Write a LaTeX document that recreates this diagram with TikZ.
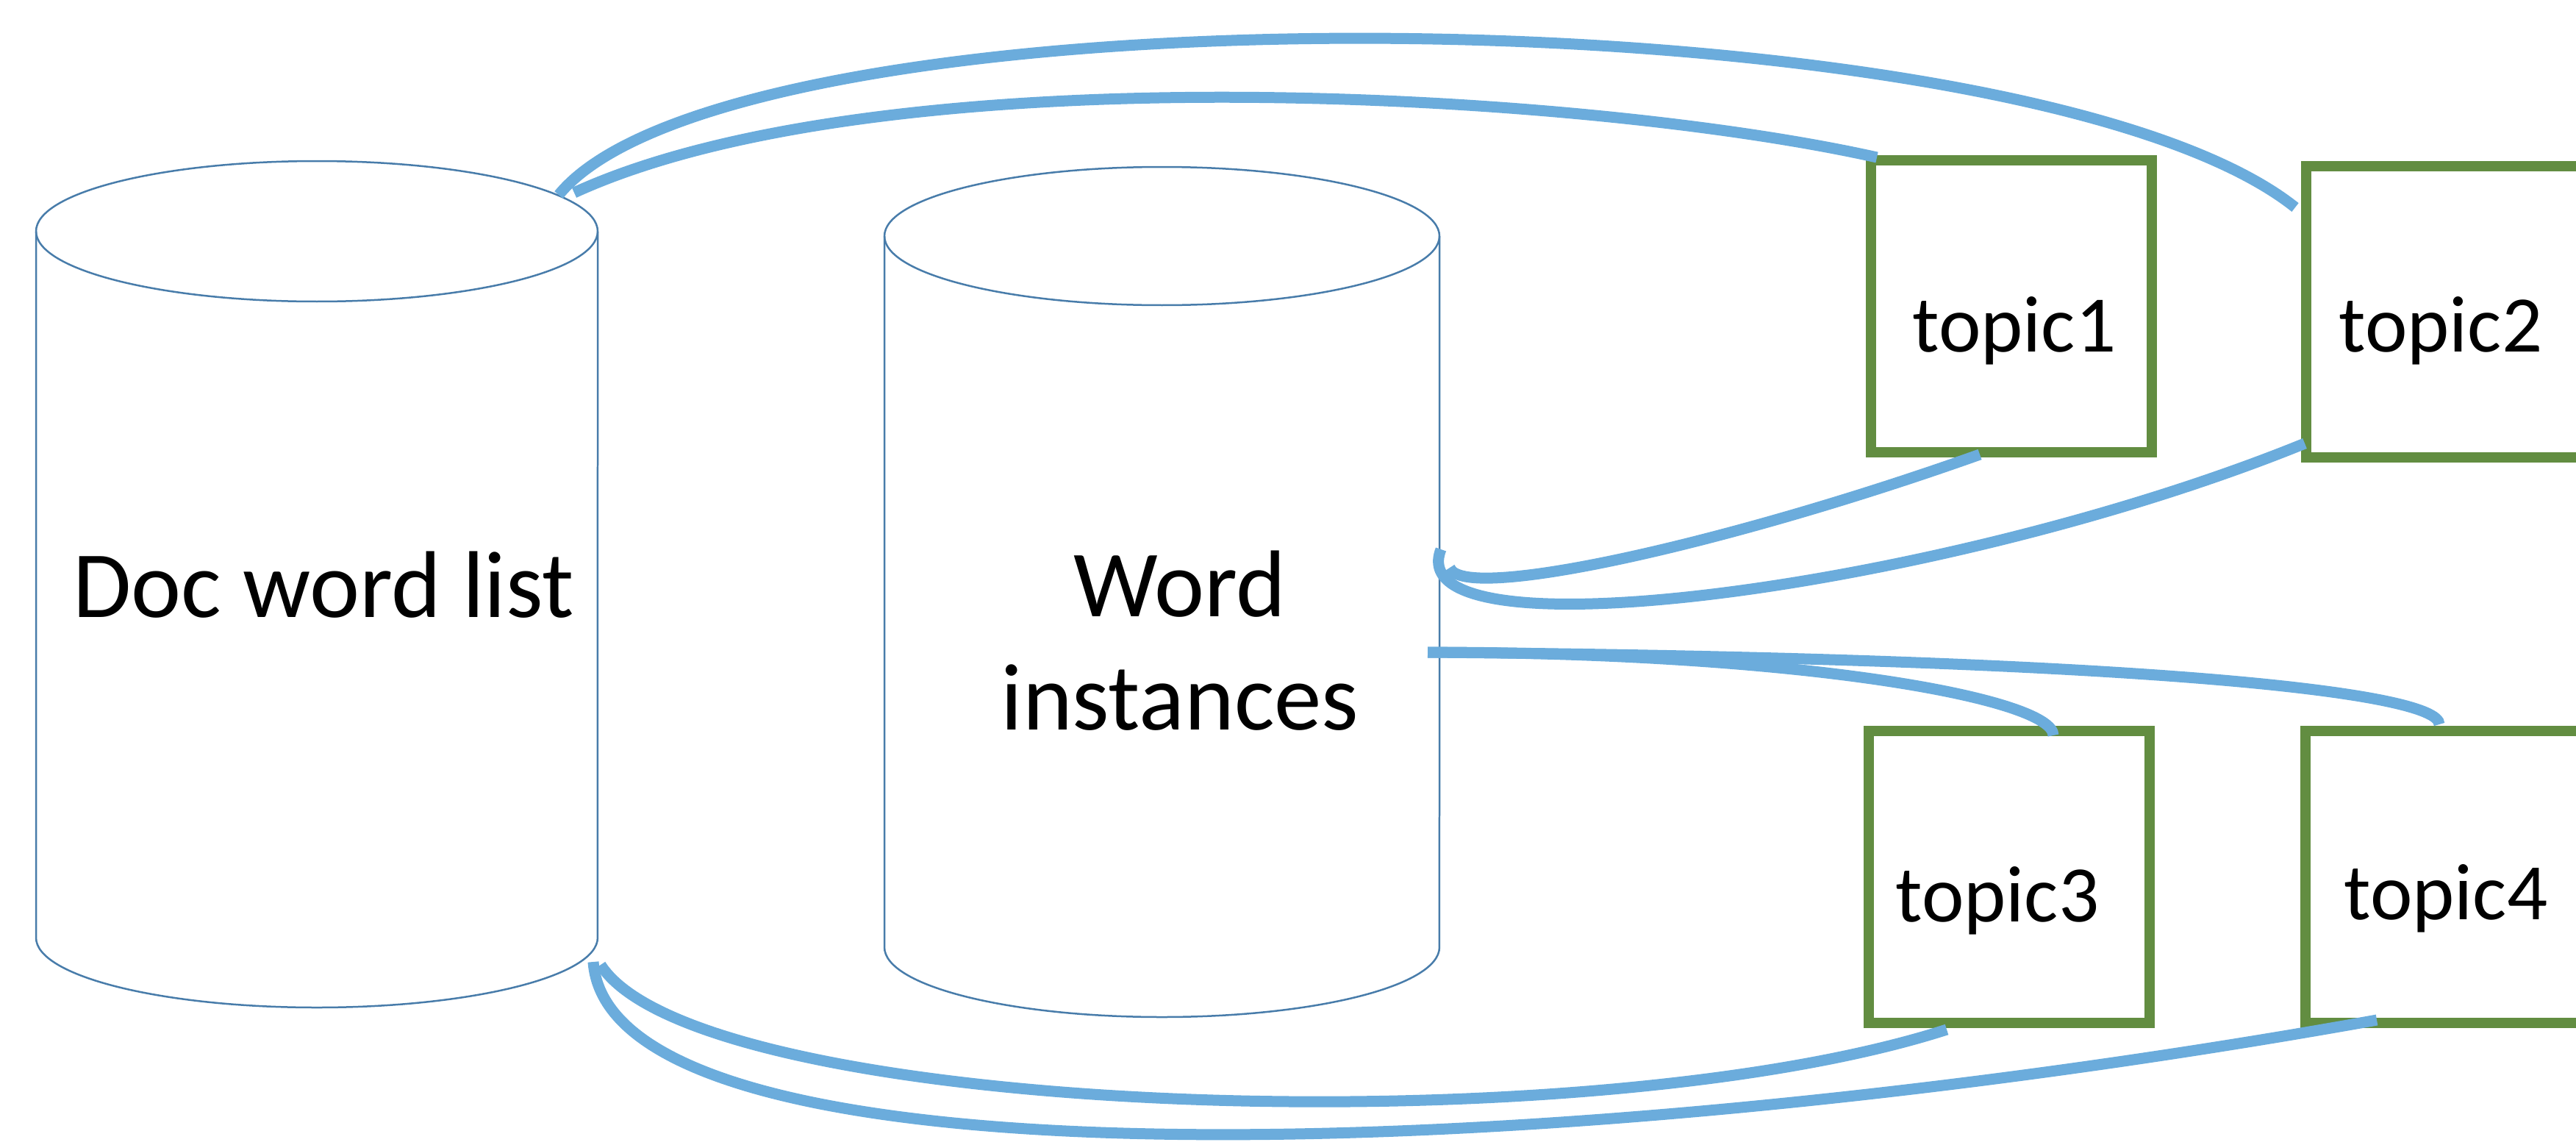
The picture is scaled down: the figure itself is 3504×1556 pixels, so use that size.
\documentclass[tikz,border=0pt]{standalone}
\usepackage{fontspec}
\setmainfont{Carlito}
\definecolor{cylblue}{RGB}{72,124,170}
\definecolor{topicgreen}{RGB}{98,141,65}
\definecolor{connblue}{RGB}{107,172,220}
\begin{document}
\begin{tikzpicture}[x=0.1pt,y=0.1pt,
  cyl/.style={draw=cylblue, line width=0.25pt},
  topicbox/.style={draw=topicgreen, line width=1.4pt, minimum width=38.2pt, minimum height=39.7pt, inner sep=0pt, outer sep=0pt},
  topictext/.style={font=\fontsize{10.9pt}{13pt}\selectfont, anchor=base, inner sep=0pt},
  cyltext/.style={font=\fontsize{12.9pt}{15.4pt}\selectfont, anchor=base, inner sep=0pt},
  conn/.style={draw=connblue, line width=1.5pt}]
\useasboundingbox (0,0) rectangle (3504,1556);
\clip (0,0) rectangle (3504,1556);

% cylinder 1: Doc word list
\draw[cyl] (431,1241.5) ellipse [x radius=38.2pt, y radius=9.55pt];
\draw[cyl] (49,1241.5) -- (49,281) arc[start angle=180, end angle=360, x radius=38.2pt, y radius=9.5pt] -- (813,1241.5);
\node[cyltext] (doc) at (440,717) {Doc word list};

% cylinder 2: Word instances
\draw[cyl] (1580.5,1235) ellipse [x radius=37.75pt, y radius=9.4pt];
\draw[cyl] (1203,1235) -- (1203,268) arc[start angle=180, end angle=360, x radius=37.75pt, y radius=9.5pt] -- (1958,1235);
\node[cyltext] (wi1) at (1605,718) {Word};
\node[cyltext] (wi2) at (1605,564) {instances};

% topic boxes
\node[topicbox] (t1) at (2736,1139.5) {};
\node[topicbox] (t2) at (3328,1132) {};
\node[topicbox] (t3) at (2733,363.5) {};
\node[topicbox] (t4) at (3327,363.5) {};
\node[topictext] (t1l) at (2740,1078) {topic1};
\node[topictext] (t2l) at (3320,1078) {topic2};
\node[topictext] (t3l) at (2717,303) {topic3};
\node[topictext] (t4l) at (3327,306) {topic4};

% connection points
\coordinate (t1A) at (2553,1342);
\coordinate (docA) at (781,1294);
\coordinate (t2B) at (3122,1274);
\coordinate (docB) at (760,1291);
\coordinate (t1C) at (2693,938);
\coordinate (wiC) at (1972,784);
\coordinate (t2D) at (3135,953);
\coordinate (wiD) at (1960,809);
\coordinate (wiE) at (1942,669);
\coordinate (t3E) at (2793,556);
\coordinate (t4F) at (3318,571);
\coordinate (docG) at (817,244);
\coordinate (t3G) at (2648,156);
\coordinate (docH) at (807,248);
\coordinate (t4H) at (3233,169);

% connectors
\draw[conn] (t1A) .. controls (2150,1432) and (1200,1486) .. (docA);
\draw[conn] (t2B) .. controls (2750,1570) and (1000,1585) .. (docB);
\draw[conn] (t1C) .. controls (2350,816) and (1990,736) .. (wiC);
\draw[conn] (t2D) .. controls (2650,756) and (1900,656) .. (wiD);
\draw[conn] (wiE) .. controls (2450,669) and (2793,606) .. (t3E);
\draw[conn] (wiE) .. controls (2900,661) and (3318,616) .. (t4F);
\draw[conn] (docG) .. controls (950,36) and (2150,-4) .. (t3G);
\draw[conn] (docH) .. controls (830,-69) and (2100,-34) .. (t4H);
\end{tikzpicture}
\end{document}
